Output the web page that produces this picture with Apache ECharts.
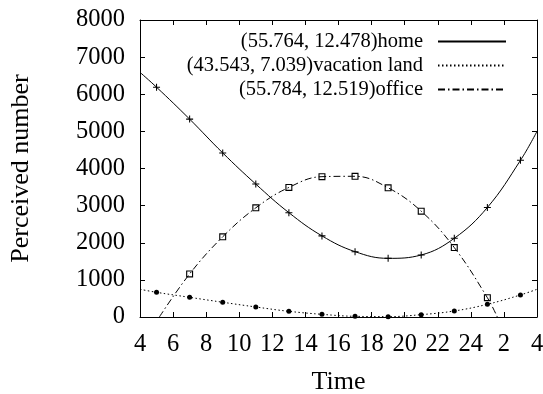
<!DOCTYPE html>
<html>
<head>
<meta charset="utf-8">
<script src="https://cdn.jsdelivr.net/npm/echarts@6/dist/echarts.min.js"></script>
<style>html,body{margin:0;padding:0;background:#fff;}#c{width:543px;height:394px;}</style>
</head>
<body>
<div id="c"></div>
<script>
// Marker hours (odd hours; 25 = 1 am, 27 = 3 am)
const markerHours = [5, 7, 9, 11, 13, 15, 17, 19, 21, 23, 25, 27];
const homeValues = [6190, 5330, 4420, 3580, 2810, 2185, 1760, 1580, 1670, 2120, 2950, 4220];
const vacationValues = [665, 530, 397, 270, 153, 72, 18, 10, 63, 162, 342, 594];
const officeHours = [7, 9, 11, 13, 15, 17, 19, 21, 23, 25];
const officeValues = [1160, 2160, 2940, 3490, 3780, 3790, 3480, 2850, 1870, 520];
// Curve end points (where the lines leave the plot)
const homeEnds = [[4, 6590], [28, 5000]];
const vacationEnds = [[4, 747], [28, 747]];
const officeEnds = [[5.17, 0], [25.6, 0]];
const seriesNames = ['(55.764, 12.478)home', '(43.543, 7.039)vacation land', '(55.784, 12.519)office'];
const xTickValues = [4, 6, 8, 10, 12, 14, 16, 18, 20, 22, 24, 26, 28];
const xTickLabels = ['4', '6', '8', '10', '12', '14', '16', '18', '20', '22', '24', '2', '4'];

const FONT = "'Liberation Serif','Times New Roman',serif";
const FS_LEGEND = 20.5;
const FS_TICK = 24.5;
const FS_NAME = 26;
const pairs = (xs, ys) => xs.map((x, i) => [x, ys[i]]);
const curve = (ends, xs, ys) => [ends[0], ...pairs(xs, ys), ends[1]];

const plusPath = 'path://M-3,-0.45 H3 V0.45 H-3 Z M-0.45,-3 H0.45 V3 H-0.45 Z';
const squarePath = 'path://M0,0 H10 V10 H0 Z M1.6,1.6 V8.4 H8.4 V1.6 Z';

const axisCommon = {
  axisLine: { show: true, onZero: false, lineStyle: { color: '#000', width: 1 } },
  axisTick: { show: true, inside: true, length: 5, lineStyle: { color: '#000', width: 1 } },
  splitLine: { show: false }
};

const chart = echarts.init(document.getElementById('c'));
chart.setOption({
  animation: false,
  backgroundColor: '#fff',
  textStyle: { fontFamily: FONT },
  grid: { left: 140, right: 6, top: 20, bottom: 77, containLabel: false, outerBoundsMode: 'none' },
  legend: {
    data: seriesNames,
    orient: 'vertical',
    align: 'right',
    right: 36,
    top: 31,
    padding: 0,
    itemGap: 3,
    itemWidth: 68,
    itemHeight: 12,
    itemStyle: { opacity: 0, borderWidth: 0 },
    textStyle: { fontFamily: FONT, fontSize: FS_LEGEND, color: '#000', padding: [0, 10, 0, 0] }
  },
  xAxis: [
    Object.assign({}, axisCommon, {
      type: 'value', min: 4, max: 28, interval: 2, position: 'bottom',
      name: 'Time', nameLocation: 'middle', nameGap: 52,
      nameTextStyle: { fontFamily: FONT, fontSize: FS_NAME, color: '#000' },
      axisLabel: {
        margin: 15, fontFamily: FONT, fontSize: FS_TICK, color: '#000', showMinLabel: true, showMaxLabel: true,
        formatter: v => { const i = xTickValues.indexOf(v); return i >= 0 ? xTickLabels[i] : ''; }
      }
    }),
    Object.assign({}, axisCommon, {
      type: 'value', min: 4, max: 28, interval: 2, position: 'top',
      axisLabel: { show: false }
    })
  ],
  yAxis: [
    Object.assign({}, axisCommon, {
      type: 'value', min: 0, max: 8000, interval: 1000, position: 'left',
      name: 'Perceived number', nameLocation: 'middle', nameGap: 106,
      nameTextStyle: { fontFamily: FONT, fontSize: FS_NAME, color: '#000' },
      axisLabel: { margin: 15, fontFamily: FONT, fontSize: FS_TICK, color: '#000', formatter: v => String(v) }
    }),
    Object.assign({}, axisCommon, {
      type: 'value', min: 0, max: 8000, interval: 1000, position: 'right',
      axisLabel: { show: false }
    })
  ],
  series: [
    {
      name: seriesNames[0], type: 'line', smooth: 0.4, symbol: 'none',
      data: curve(homeEnds, markerHours, homeValues),
      lineStyle: { color: '#000', width: 1, type: 'solid' }, itemStyle: { color: '#000' }
    },
    {
      name: seriesNames[1], type: 'line', smooth: 0.4, symbol: 'none',
      data: curve(vacationEnds, markerHours, vacationValues),
      lineStyle: { color: '#000', width: 1, type: [1.5, 2.5] }, itemStyle: { color: '#000' }
    },
    {
      name: seriesNames[2], type: 'line', smooth: 0.4, symbol: 'none',
      data: curve(officeEnds, officeHours, officeValues),
      lineStyle: { color: '#000', width: 1, type: [7, 3, 1.5, 3] }, itemStyle: { color: '#000' }
    },
    {
      type: 'scatter', symbol: plusPath, symbolSize: 7, z: 5,
      data: pairs(markerHours, homeValues), itemStyle: { color: '#000', opacity: 1 }
    },
    {
      type: 'scatter', symbol: 'circle', symbolSize: 5, z: 5,
      data: pairs(markerHours, vacationValues), itemStyle: { color: '#000', opacity: 1 }
    },
    {
      type: 'scatter', symbol: squarePath, symbolSize: 7, z: 5,
      data: pairs(officeHours, officeValues), itemStyle: { color: '#000', opacity: 1 }
    }
  ]
});
</script>
</body>
</html>
